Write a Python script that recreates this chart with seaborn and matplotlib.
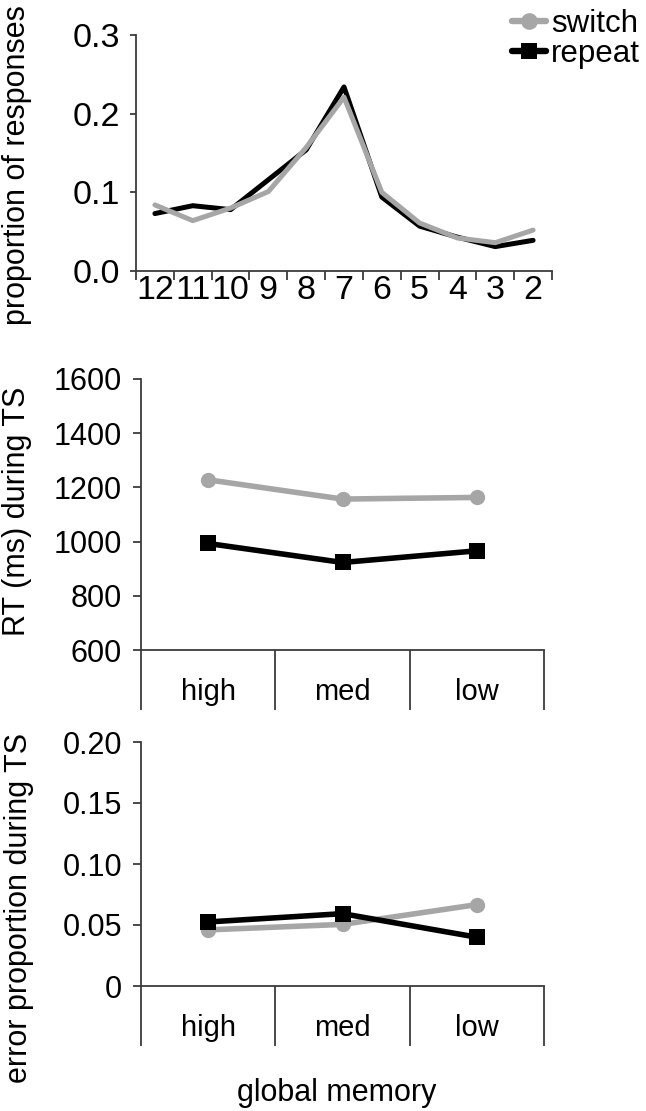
import numpy as np
import pandas as pd
import matplotlib
matplotlib.use("Agg")
import matplotlib.pyplot as plt
from matplotlib.lines import Line2D
import seaborn as sns

# ---- data ----
trial_types = ["switch", "repeat"]
response_labels = ["12", "11", "10", "9", "8", "7", "6", "5", "4", "3", "2"]
switch_prop = [0.084, 0.064, 0.080, 0.101, 0.157, 0.221, 0.100, 0.061, 0.042, 0.036, 0.052]
repeat_prop = [0.073, 0.083, 0.078, 0.116, 0.154, 0.234, 0.094, 0.057, 0.043, 0.031, 0.039]

memory_levels = ["high", "med", "low"]
switch_rt = [1228, 1157, 1163]
repeat_rt = [993, 923, 966]
switch_err = [0.046, 0.0505, 0.0667]
repeat_err = [0.0525, 0.0593, 0.040]

rt_ticks = [600, 800, 1000, 1200, 1400, 1600]
err_ticks = [0, 0.05, 0.10, 0.15, 0.20]
err_tick_labels = ["0", "0.05", "0.10", "0.15", "0.20"]
prop_ticks = [0.0, 0.1, 0.2, 0.3]
prop_tick_labels = ["0.0", "0.1", "0.2", "0.3"]

# ---- style ----
sns.set_style("ticks")
plt.rcParams["font.family"] = ["Liberation Sans", "DejaVu Sans"]
plt.rcParams["text.color"] = "black"
plt.rcParams["xtick.labelcolor"] = "black"
plt.rcParams["ytick.labelcolor"] = "black"
GRAY = "#a6a6a6"
SPINE = "#3c3c3c"
palette = {"switch": GRAY, "repeat": "#000000"}
markers = {"switch": "o", "repeat": "s"}

W, H = 646, 1111
fig = plt.figure(figsize=(W / 100, H / 100), dpi=100)


def px_axes(left, top, right, bottom):
    return fig.add_axes([left / W, 1 - bottom / H, (right - left) / W, (bottom - top) / H])


def style_spines(ax):
    for s in ["top", "right"]:
        ax.spines[s].set_visible(False)
    for s in ["left", "bottom"]:
        ax.spines[s].set_color(SPINE)
        ax.spines[s].set_linewidth(1.3)


def long_frame(a, b, names):
    n = len(names)
    return pd.DataFrame({
        "pos": np.tile(np.arange(n), 2),
        "value": list(a) + list(b),
        "trial": ["switch"] * n + ["repeat"] * n,
    })


# ---- top: response distribution ----
ax1 = px_axes(136, 35, 552, 271)
df_top = long_frame(switch_prop, repeat_prop, response_labels)
sns.lineplot(data=df_top, x="pos", y="value", hue="trial", hue_order=["repeat", "switch"],
             palette=palette, linewidth=3.6, legend=False, ax=ax1)
ax1.set_xlim(-0.5, len(response_labels) - 0.5)
ax1.set_ylim(0, 0.3)
ax1.set_xticks(np.arange(len(response_labels)))
ax1.set_xticklabels(response_labels)
ax1.set_xticks(np.arange(-0.5, len(response_labels), 1.0), minor=True)
ax1.set_yticks(prop_ticks)
ax1.set_yticklabels(prop_tick_labels)
ax1.tick_params(axis="x", which="major", length=0, pad=3, labelsize=24.5)
ax1.tick_params(axis="x", which="minor", length=6.5, width=1.3, color=SPINE, direction="out")
ax1.tick_params(axis="y", which="major", length=4.5, width=1.3, color=SPINE, pad=7, labelsize=24.5)
ax1.set_xlabel("")
ax1.set_ylabel("")
style_spines(ax1)


def category_panel(ax, sw, rp, ylim, yticks, yticklabels):
    df = long_frame(sw, rp, memory_levels)
    sns.lineplot(data=df, x="pos", y="value", hue="trial", hue_order=trial_types,
                 style="trial", style_order=trial_types, markers=markers, dashes=False,
                 palette=palette, linewidth=4.0, markersize=11, markeredgewidth=0,
                 legend=False, ax=ax)
    ax.set_xlim(-0.5, len(memory_levels) - 0.5)
    ax.set_ylim(*ylim)
    ax.set_xticks(np.arange(len(memory_levels)))
    ax.set_xticklabels(memory_levels)
    ax.set_xticks(np.arange(-0.5, len(memory_levels), 1.0), minor=True)
    ax.set_yticks(yticks)
    ax.set_yticklabels(yticklabels)
    ax.tick_params(axis="x", which="major", length=0, pad=20.5, labelsize=21)
    ax.tick_params(axis="x", which="minor", length=43, width=1.3, color=SPINE, direction="out")
    ax.tick_params(axis="y", which="major", length=5.5, width=1.3, color=SPINE, pad=8, labelsize=22)
    ax.set_xlabel("")
    ax.set_ylabel("")
    style_spines(ax)


# ---- middle: reaction times ----
ax2 = px_axes(141, 379, 544, 650)
category_panel(ax2, switch_rt, repeat_rt, (600, 1600), rt_ticks, [str(t) for t in rt_ticks])

# ---- bottom: error proportions ----
ax3 = px_axes(141, 742, 544, 986)
category_panel(ax3, switch_err, repeat_err, (0, 0.20), err_ticks, err_tick_labels)

# ---- axis titles ----
fig.text(17 / W, 1 - 165 / H, "proportion of responses", rotation=90,
         ha="center", va="center", fontsize=22)
fig.text(17 / W, 1 - 511 / H, "RT (ms) during TS", rotation=90,
         ha="center", va="center", fontsize=22)
fig.text(19 / W, 1 - 908 / H, "error proportion during TS", rotation=90,
         ha="center", va="center", fontsize=22)
fig.text(337 / W, 1 - 1093 / H, "global memory", ha="center", va="center", fontsize=22)

# ---- legend ----
handles = [
    Line2D([], [], color=palette[t], marker=markers[t], linewidth=4.6,
           markersize=12, markeredgewidth=0)
    for t in trial_types
]
fig.legend(handles, trial_types, loc="upper left", bbox_to_anchor=(512 / W, 1 - 9 / H),
           frameon=False, fontsize=22.5, handlelength=1.1, handletextpad=0.15,
           labelspacing=0.0, borderpad=0, borderaxespad=0)

fig.savefig("out.png", dpi=100)
